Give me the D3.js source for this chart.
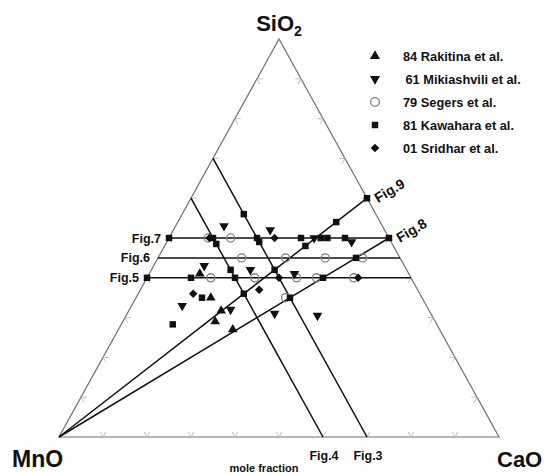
<!DOCTYPE html>
<html><head><meta charset="utf-8">
<script src="https://cdn.jsdelivr.net/npm/d3@7"></script>
<style>body{margin:0;background:#fff}svg{display:block}text{font-family:Arial,"Liberation Sans",sans-serif;font-weight:bold;fill:#111}</style>
</head><body>
<script>
// Compositions as [SiO2, CaO] mole fractions; MnO = 1 - SiO2 - CaO
const rakitina = [[0.41,0.115],[0.35,0.17],[0.317,0.21],[0.29,0.21],[0.27,0.26]];
const mikiashvili = [[0.53,0.11],[0.52,0.22],[0.5,0.33],[0.49,0.42],[0.43,0.115],[0.42,0.225],[0.41,0.33],[0.33,0.115],[0.32,0.23],[0.31,0.335],[0.305,0.435]];
const segers = [[0.5,0.089],[0.5,0.14],[0.45,0.19],[0.45,0.29],[0.45,0.38],[0.45,0.465],[0.4,0.145],[0.4,0.245],[0.4,0.34],[0.4,0.385],[0.4,0.47],[0.35,0.34]];
const kawahara = [[0.5,0],[0.4,0],[0.5,0.1],[0.485,0.115],[0.42,0.18],[0.4,0.2],[0.36,0.24],[0.56,0.14],[0.5,0.2],[0.49,0.21],[0.42,0.28],[0.35,0.35],[0.5,0.3],[0.48,0.32],[0.5,0.345],[0.5,0.36],[0.54,0.36],[0.5,0.4],[0.45,0.45],[0.4,0.4],[0.6,0.4],[0.5,0.5],[0.4,0.1],[0.35,0.15],[0.283,0.117]];
const sridhar = [[0.5,0.092],[0.5,0.24],[0.37,0.27],[0.36,0.125],[0.4,0.3],[0.4,0.48]];
const legendLabels = ["84 Rakitina et al.","61 Mikiashvili et al.","79 Segers et al.","81 Kawahara et al.","01 Sridhar et al."];
const vertexLabels = ["SiO", "MnO", "CaO"];
const figNames = ["Fig.7","Fig.6","Fig.5","Fig.4","Fig.3","Fig.9","Fig.8"];
const figFrom = [[0.5,0],[0.45,0],[0.4,0],[0.6,0],[0.7,0],[0,0],[0,0]];
const figTo   = [[0.5,0.5],[0.45,0.55],[0.4,0.6],[0,0.6],[0,0.7],[0.6,0.4],[0.5,0.5]];
const tickFractions = [0.1,0.2,0.3,0.4,0.5,0.6,0.7,0.8,0.9];

const W=545,H=473;
const svg=d3.select("body").append("svg").attr("width",W).attr("height",H);
const X=d3.scaleLinear().domain([0,1]).range([59,499]);
const Y=d3.scaleLinear().domain([0,1]).range([437,39]);
const pt=(s,c)=>[X(c+s/2),Y(s)];
const line=d3.line();

// triangle
svg.append("path").attr("d",line([pt(0,0),pt(0,1),pt(1,0)])+"Z")
  .attr("fill","none").attr("stroke","#707070").attr("stroke-width",1.2);

// ticks
const tl=0.013, tg=svg.append("g").attr("stroke","#b8b8b8").attr("stroke-width",0.9);
tickFractions.forEach(f=>{
  const segs=[
    [pt(0,f),pt(tl,f)],[pt(0,f),pt(tl,f-tl)],
    [pt(f,0),pt(f,tl)],[pt(f,0),pt(f-tl,tl)],
    [pt(f,1-f),pt(f,1-f-tl)],[pt(f,1-f),pt(f-tl,1-f)]
  ];
  segs.forEach(sg=>tg.append("path").attr("d",line(sg)));
});

// fig lines
figNames.forEach((n,i)=>{
  svg.append("path").attr("d",line([pt(...figFrom[i]),pt(...figTo[i])]))
    .attr("stroke","#111").attr("stroke-width",1.5).attr("fill","none");
});
// fig labels
[0,1,2].forEach(i=>{
  const p=pt(...figFrom[i]);
  svg.append("text").attr("x",p[0]-8).attr("y",p[1]+4.5).attr("text-anchor","end")
    .attr("font-size",12.5).text(figNames[i]);
});
[3,4].forEach(i=>{
  const p=pt(...figTo[i]);
  svg.append("text").attr("x",p[0]+1).attr("y",p[1]+23).attr("text-anchor","middle")
    .attr("font-size",12.5).text(figNames[i]);
});
[5,6].forEach(i=>{
  const p=pt(...figTo[i]);
  svg.append("text").attr("transform",`translate(${p[0]+11},${p[1]+5}) rotate(-31)`)
    .attr("font-size",14).text(figNames[i]);
});

// markers
const sym=(type,size)=>d3.symbol().type(type).size(size)();
function draw(data,type,size,rot,style){
  data.forEach(d=>{
    const p=pt(d[0],d[1]);
    const e=svg.append("path").attr("d",sym(type,size))
      .attr("transform",`translate(${p[0]},${p[1]}) rotate(${rot})`);
    style(e);
  });
}
const black=e=>e.attr("fill","#111");
const ring=e=>e.attr("fill","none").attr("stroke","#808080").attr("stroke-width",1.3);
draw(segers,d3.symbolCircle,52,0,ring);
draw(kawahara,d3.symbolSquare,42,0,black);
draw(sridhar,d3.symbolSquare,36,45,black);
draw(rakitina,d3.symbolTriangle,40,0,black);
draw(mikiashvili,d3.symbolTriangle,40,180,black);

// legend
const legTypes=[[d3.symbolTriangle,44,0,black],[d3.symbolTriangle,44,180,black],[d3.symbolCircle,60,0,ring],[d3.symbolSquare,42,0,black],[d3.symbolSquare,38,45,black]];
legendLabels.forEach((l,i)=>{
  const y=56+i*23;
  const t=legTypes[i];
  t[3](svg.append("path").attr("d",sym(t[0],t[1])).attr("transform",`translate(375,${y}) rotate(${t[2]})`));
  svg.append("text").attr("x",i===1?405.5:403).attr("y",y+4.5).attr("font-size",12.8).text(l);
});

// vertex labels
const apexLabel=svg.append("text").attr("x",279).attr("y",31).attr("text-anchor","middle").attr("font-size",22);
apexLabel.append("tspan").text(vertexLabels[0]);
apexLabel.append("tspan").attr("font-size",14).attr("dy",5).text("2");
svg.append("text").attr("x",12).attr("y",467).attr("font-size",23).text(vertexLabels[1]);
svg.append("text").attr("x",497).attr("y",467).attr("font-size",22).text(vertexLabels[2]);
svg.append("text").attr("x",264).attr("y",472).attr("text-anchor","middle").attr("font-size",11).text("mole fraction");
</script>
</body></html>
